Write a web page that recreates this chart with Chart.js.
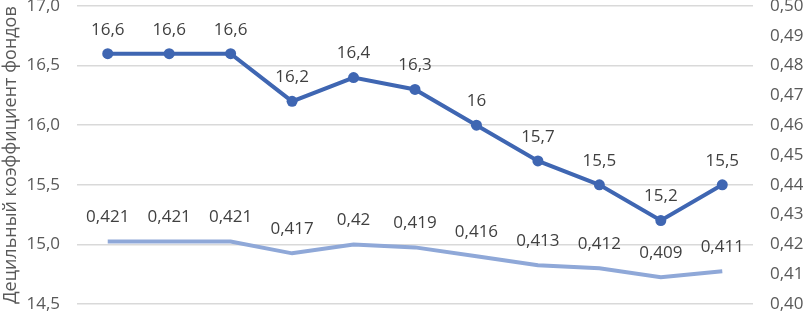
<!DOCTYPE html>
<html>
<head>
<meta charset="utf-8">
<script src="https://cdn.jsdelivr.net/npm/chart.js@4"></script>
<style>
  html, body { margin: 0; padding: 0; background: #fff; }
  #wrap { width: 803px; height: 312px; }
</style>
</head>
<body>
<div id="wrap"><canvas id="chart" width="803" height="312"></canvas></div>
<script>
const categories = ['1', '2', '3', '4', '5', '6', '7', '8', '9', '10', '11']
const ratioValues = [16.6, 16.6, 16.6, 16.2, 16.4, 16.3, 16.0, 15.7, 15.5, 15.2, 15.5]
const giniValues = [0.421, 0.421, 0.421, 0.417, 0.42, 0.419, 0.416, 0.413, 0.412, 0.409, 0.411]
const leftTicks = [14.5, 15.0, 15.5, 16.0, 16.5, 17.0]
const rightTicks = [0.40, 0.41, 0.42, 0.43, 0.44, 0.45, 0.46, 0.47, 0.48, 0.49, 0.50]
const yTitle = 'Децильный коэффициент фондов'

const FONT = '"Open Sans", "Liberation Sans", sans-serif'

// draws the value above every point, comma as decimal mark
const valueLabels = {
  id: 'valueLabels',
  afterDatasetsDraw (chart) {
    const ctx = chart.ctx
    ctx.save()
    ctx.font = '17px ' + FONT
    ctx.fillStyle = '#404040'
    ctx.textAlign = 'center'
    ctx.textBaseline = 'middle'
    chart.data.datasets.forEach((ds, i) => {
      chart.getDatasetMeta(i).data.forEach((pt, j) => {
        const text = String(ds.data[j]).replace('.', ',')
        ctx.fillText(text, pt.x, pt.y - 24)
      })
    })
    ctx.restore()
  }
}

function noPad (scale) {
  scale.paddingTop = 0
  scale.paddingBottom = 0
}

new Chart(document.getElementById('chart').getContext('2d'), {
  type: 'line',
  data: {
    labels: categories,
    datasets: [
      {
        data: ratioValues,
        yAxisID: 'y',
        borderColor: '#3F66B2',
        backgroundColor: '#3F66B2',
        borderWidth: 4,
        pointRadius: 5.5,
        pointHoverRadius: 5.5,
        pointBorderWidth: 0,
        tension: 0
      },
      {
        data: giniValues,
        yAxisID: 'y1',
        borderColor: '#8FA8D8',
        backgroundColor: '#8FA8D8',
        borderWidth: 4,
        pointRadius: 0,
        tension: 0
      }
    ]
  },
  options: {
    responsive: false,
    animation: false,
    layout: { padding: { top: 6, bottom: 8, left: 0, right: 0 } },
    plugins: {
      legend: { display: false },
      tooltip: { enabled: false }
    },
    scales: {
      x: {
        display: false,
        offset: true
      },
      y: {
        position: 'left',
        min: 14.5,
        max: 17.0,
        afterBuildTicks: s => { s.ticks = leftTicks.map(v => ({ value: v })) },
        afterFit: s => { s.width = 77; noPad(s) },
        border: { display: false },
        grid: { color: '#d9d9d9', lineWidth: 1.5, drawTicks: false },
        ticks: {
          padding: 17,
          color: '#595959',
          font: { family: FONT, size: 17 },
          callback: v => v.toFixed(1).replace('.', ',')
        },
        title: {
          display: true,
          text: yTitle,
          color: '#595959',
          padding: 0,
          font: { family: FONT, size: 18 }
        }
      },
      y1: {
        position: 'right',
        min: 0.40,
        max: 0.50,
        afterBuildTicks: s => { s.ticks = rightTicks.map(v => ({ value: v })) },
        afterFit: s => { s.width = 50; noPad(s) },
        border: { display: false },
        grid: { display: false, drawTicks: false },
        ticks: {
          padding: 17,
          color: '#595959',
          font: { family: FONT, size: 17 },
          callback: v => v.toFixed(2).replace('.', ',')
        }
      }
    }
  },
  plugins: [valueLabels]
})
</script>
</body>
</html>
